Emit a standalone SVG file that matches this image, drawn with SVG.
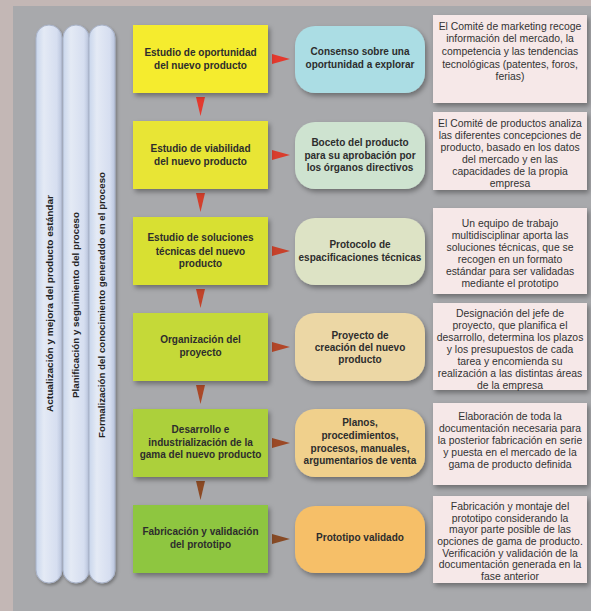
<svg xmlns="http://www.w3.org/2000/svg" width="591" height="611" viewBox="0 0 591 611">
<defs>
<filter id="sh" x="-20%" y="-20%" width="150%" height="150%"><feDropShadow dx="2" dy="3" stdDeviation="2.5" flood-color="#000" flood-opacity="0.35"/></filter>
<filter id="shp" x="-50%" y="-5%" width="200%" height="110%"><feDropShadow dx="1.5" dy="2" stdDeviation="1.5" flood-color="#000" flood-opacity="0.3"/></filter>
<linearGradient id="pil" x1="0" y1="0" x2="1" y2="0"><stop offset="0" stop-color="#c9d6ec"/><stop offset="0.3" stop-color="#e4eaf5"/><stop offset="0.8" stop-color="#d6def0"/><stop offset="1" stop-color="#b9c4dc"/></linearGradient>
</defs>
<style>
.lb{font-family:"Liberation Sans",Arial,sans-serif;font-weight:bold;font-size:10px;fill:#2d2d2d;text-anchor:middle}
.tx{font-family:"Liberation Sans",Arial,sans-serif;font-size:10.4px;fill:#333;text-anchor:middle}
.pt{font-family:"Liberation Sans",Arial,sans-serif;font-weight:bold;font-size:9.8px;fill:#222;text-anchor:middle}
.pill{fill:url(#pil);stroke:#a9b3c9;stroke-width:1;filter:url(#shp)}
.note{fill:#f6e8e8;filter:url(#sh)}
</style>
<rect x="0" y="0" width="591" height="611" fill="#c3b7b5"/>
<rect x="13" y="6" width="578" height="605" fill="#a8a9ac"/>

<g id="pillars">
<g id="pillar1"><rect class="pill" x="36" y="25" width="26" height="558" rx="13"/><text class="pt" transform="translate(52.5,303.5) rotate(-90)" textLength="217" lengthAdjust="spacingAndGlyphs">Actualización y mejora del producto estándar</text></g>
<g id="pillar2"><rect class="pill" x="63" y="25" width="26" height="558" rx="13"/><text class="pt" transform="translate(79,305) rotate(-90)" textLength="186" lengthAdjust="spacingAndGlyphs">Planificación y seguimiento del proceso</text></g>
<g id="pillar3"><rect class="pill" x="89" y="25" width="26" height="558" rx="13"/><text class="pt" transform="translate(104.5,305) rotate(-90)" textLength="266" lengthAdjust="spacingAndGlyphs">Formalización del conocimiento generaddo en el proceso</text></g>
</g>

<g id="connectors">
<polygon points="196,97 205,97 200.5,116" fill="#e4392e"/>
<polygon points="196,193 205,193 200.5,212" fill="#d23f2c"/>
<polygon points="196,289 205,289 200.5,308" fill="#c1432a"/>
<polygon points="196,385 205,385 200.5,404" fill="#aa4827"/>
<polygon points="196,481 205,481 200.5,500" fill="#8c4a24"/>
<polygon points="272,54 290,59 272,64" fill="#e4392e"/>
<polygon points="272,150 290,155 272,160" fill="#d93d2d"/>
<polygon points="272,246 290,251 272,256" fill="#c7412b"/>
<polygon points="272,342 290,347 272,352" fill="#b24628"/>
<polygon points="272,438 290,443 272,448" fill="#9b4926"/>
<polygon points="272,534 290,539 272,544" fill="#874a25"/>
</g>

<g id="step1"><rect x="133" y="25" width="135" height="68" fill="#f5ec2f" filter="url(#sh)"/><text class="lb" x="200.5" y="56.2">Estudio de oportunidad</text><text class="lb" x="200.5" y="68.7">del nuevo producto</text></g>
<g id="step2"><rect x="133" y="121" width="135" height="68" fill="#e8e534" filter="url(#sh)"/><text class="lb" x="200.5" y="152">Estudio de viabilidad</text><text class="lb" x="200.5" y="165">del nuevo producto</text></g>
<g id="step3"><rect x="133" y="217" width="135" height="68" fill="#d8e033" filter="url(#sh)"/><text class="lb" x="200.5" y="240.8">Estudio de soluciones</text><text class="lb" x="200.5" y="254.5">técnicas del nuevo</text><text class="lb" x="200.5" y="267.2">producto</text></g>
<g id="step4"><rect x="133" y="313" width="135" height="68" fill="#c5d937" filter="url(#sh)"/><text class="lb" x="200.5" y="342.8">Organización del</text><text class="lb" x="200.5" y="356.2">proyecto</text></g>
<g id="step5"><rect x="133" y="409" width="135" height="68" fill="#acd03a" filter="url(#sh)"/><text class="lb" x="200.5" y="432.8">Desarrollo e</text><text class="lb" x="200.5" y="445.5">industrialización de la</text><text class="lb" x="200.5" y="458.2">gama del nuevo producto</text></g>
<g id="step6"><rect x="133" y="505" width="135" height="68" fill="#8ec63f" filter="url(#sh)"/><text class="lb" x="200.5" y="535.2">Fabricación y validación</text><text class="lb" x="200.5" y="547.8">del prototipo</text></g>

<g id="result1"><rect x="295" y="26" width="130" height="67" rx="20" fill="#abdde4" filter="url(#sh)"/><text class="lb" x="360" y="55.2">Consenso sobre una</text><text class="lb" x="360" y="67.8">oportunidad a explorar</text></g>
<g id="result2"><rect x="295" y="122" width="130" height="67" rx="20" fill="#cee3d0" filter="url(#sh)"/><text class="lb" x="360" y="146.2">Boceto del producto</text><text class="lb" x="360" y="158.5">para su aprobación por</text><text class="lb" x="360" y="171.2">los órganos directivos</text></g>
<g id="result3"><rect x="295" y="218" width="130" height="67" rx="20" fill="#dde3c5" filter="url(#sh)"/><text class="lb" x="360" y="247.8">Protocolo de</text><text class="lb" x="360" y="260.5">espacificaciones técnicas</text></g>
<g id="result4"><rect x="295" y="313" width="130" height="68" rx="20" fill="#ecd7a5" filter="url(#sh)"/><text class="lb" x="360" y="338.5">Proyecto de</text><text class="lb" x="360" y="350.8">creación del nuevo</text><text class="lb" x="360" y="362.8">producto</text></g>
<g id="result5"><rect x="295" y="409" width="130" height="68" rx="20" fill="#f0d08c" filter="url(#sh)"/><text class="lb" x="360" y="426.2">Planos,</text><text class="lb" x="360" y="438.8">procedimientos,</text><text class="lb" x="360" y="451.8">procesos, manuales,</text><text class="lb" x="360" y="464.2">argumentarios de venta</text></g>
<g id="result6"><rect x="295" y="506" width="130" height="67" rx="20" fill="#f6bf67" filter="url(#sh)"/><text class="lb" x="360" y="540.5">Prototipo validado</text></g>

<g id="note1"><rect class="note" x="433" y="15" width="154" height="88"/><text class="tx" x="510" y="29.6">El Comité de marketing recoge</text><text class="tx" x="510" y="42.3">información del mercado, la</text><text class="tx" x="510" y="54.9">competencia y las tendencias</text><text class="tx" x="510" y="67.6">tecnológicas (patentes, foros,</text><text class="tx" x="510" y="80.3">ferias)</text></g>
<g id="note2"><rect class="note" x="433" y="112" width="154" height="78"/><text class="tx" x="510" y="127">El Comité de productos analiza</text><text class="tx" x="510" y="139">las diferentes concepciones de</text><text class="tx" x="510" y="151">producto, basado en los datos</text><text class="tx" x="510" y="163">del mercado y en las</text><text class="tx" x="510" y="175">capacidades de la propia</text><text class="tx" x="510" y="187">empresa</text></g>
<g id="note3"><rect class="note" x="433" y="208" width="154" height="86"/><text class="tx" x="510" y="226.9">Un equipo de trabajo</text><text class="tx" x="510" y="238.9">multidisciplinar aporta las</text><text class="tx" x="510" y="250.9">soluciones técnicas, que se</text><text class="tx" x="510" y="262.9">recogen en un formato</text><text class="tx" x="510" y="274.9">estándar para ser validadas</text><text class="tx" x="510" y="286.9">mediante el prototipo</text></g>
<g id="note4"><rect class="note" x="433" y="303" width="154" height="87"/><text class="tx" x="510" y="316.9">Designación del jefe de</text><text class="tx" x="510" y="328.9">proyecto, que planifica el</text><text class="tx" x="510" y="340.9">desarrollo, determina los plazos</text><text class="tx" x="510" y="352.9">y los presupuestos de cada</text><text class="tx" x="510" y="364.9">tarea y encomienda su</text><text class="tx" x="510" y="376.9">realización a las distintas áreas</text><text class="tx" x="510" y="388.5">de la empresa</text></g>
<g id="note5"><rect class="note" x="433" y="403" width="154" height="82"/><text class="tx" x="510" y="420.3">Elaboración de toda la</text><text class="tx" x="510" y="432.3">documentación necesaria para</text><text class="tx" x="510" y="444.3">la posterior fabricación en serie</text><text class="tx" x="510" y="456.3">y puesta en el mercado de la</text><text class="tx" x="510" y="468.3">gama de producto definida</text></g>
<g id="note6"><rect class="note" x="433" y="496" width="154" height="87"/><text class="tx" x="510" y="510.2">Fabricación y montaje del</text><text class="tx" x="510" y="521.8">prototipo considerando la</text><text class="tx" x="510" y="533.4">mayor parte posible de las</text><text class="tx" x="510" y="545">opciones de gama de producto.</text><text class="tx" x="510" y="556.6">Verificación y validación de la</text><text class="tx" x="510" y="568.2">documentación generada en la</text><text class="tx" x="510" y="579.8">fase anterior</text></g>
</svg>
